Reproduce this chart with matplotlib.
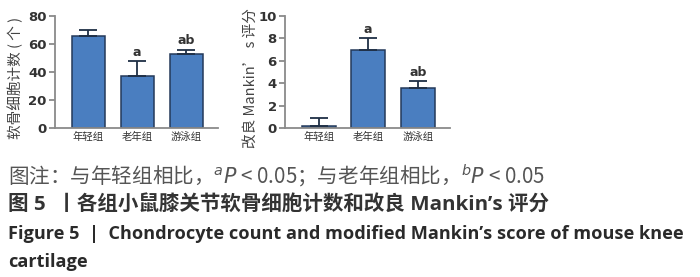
import matplotlib
matplotlib.use("Agg")
import matplotlib.pyplot as plt

groups = ["年轻组", "老年组", "游泳组"]
cell_count = [66, 37, 53]
cell_err = [4, 11, 3]
cell_marks = ["", "a", "ab"]
mankin = [0.2, 7.0, 3.6]
mankin_err = [0.7, 1.0, 0.6]
mankin_marks = ["", "a", "ab"]

CJK = ["Noto Sans CJK SC", "DejaVu Sans"]
MIX = ["Open Sans", "Noto Sans CJK SC", "DejaVu Sans"]
plt.rcParams["font.family"] = CJK

W, H = 700, 277
fig = plt.figure(figsize=(W / 100, H / 100), dpi=100)

bar_color = "#4a7ec0"
edge_color = "#24395a"
axis_color = "#8a8a8a"


def px_axes(x0, x1, ytop, ybot):
    return fig.add_axes([x0 / W, (H - ybot) / H, (x1 - x0) / W, (ybot - ytop) / H])


def draw(ax, vals, errs, marks, ymax, step, ylabel, mark_pad):
    x = range(len(vals))
    ax.bar(x, vals, width=0.68, color=bar_color, edgecolor=edge_color, linewidth=1.1, zorder=2)
    ax.errorbar(x, vals, yerr=[[0] * len(errs), errs], fmt="none", ecolor="#1f2f45",
                elinewidth=1.3, capsize=6.5, capthick=1.3, zorder=3)
    for i, (v, e, m) in enumerate(zip(vals, errs, marks)):
        if m:
            ax.text(i, v + e + mark_pad, m, ha="center", va="bottom", fontsize=9,
                    color="#333333", fontweight="bold", family="DejaVu Sans")
    ax.set_xlim(-0.68, 2.65)
    ax.set_ylim(0, ymax)
    ax.set_yticks(range(0, ymax + 1, step))
    ax.set_xticks(list(x))
    ax.set_xticklabels(groups, fontsize=7.5, color="#333333")
    for s in ["top", "right"]:
        ax.spines[s].set_visible(False)
    for s in ["left", "bottom"]:
        ax.spines[s].set_color(axis_color)
        ax.spines[s].set_linewidth(1.3)
    ax.tick_params(axis="y", colors=axis_color, labelcolor="#333333", labelsize=9.5, length=4, width=1.3, pad=2)
    ax.tick_params(axis="x", length=0, pad=3)
    for lab in ax.get_yticklabels():
        lab.set_fontweight("bold")
        lab.set_family("DejaVu Sans")
    ax.set_ylabel(ylabel, fontsize=10.5, color="#444444")


ax1 = px_axes(55, 218, 16, 128)
draw(ax1, cell_count, cell_err, cell_marks, 80, 20, "软骨细胞计数 ( 个 )", 1.5)
ax1.yaxis.set_label_coords((23 - 55) / 163, 0.45)

ax2 = px_axes(285, 450, 16, 128)
draw(ax2, mankin, mankin_err, mankin_marks, 10, 2, "改良 Mankin’ s 评分", 0.2)
ax2.yaxis.set_label_coords((258 - 285) / 165, 0.45)

captions = [
    ("图注：与年轻组相比，$^{a}\\mathit{P}$ < 0.05；与老年组相比，$^{b}\\mathit{P}$ < 0.05",
     176, 15, "#555555", "normal", CJK, 545),
    ("图 5  丨各组小鼠膝关节软骨细胞计数和改良 Mankin’s 评分",
     205, 14.5, "#333333", "bold", MIX, 548),
    ("Figure 5  |  Chondrocyte count and modified Mankin’s score of mouse knee",
     234, 13, "#2a2a2a", "bold", ["Open Sans", "DejaVu Sans"], 677),
    ("cartilage", 262, 13, "#2a2a2a", "bold", ["Open Sans", "DejaVu Sans"], None),
]

renderer = fig.canvas.get_renderer()
scale_en = None
for txt, y, fs, col, fw, fam, right in captions:
    t = fig.text(8 / W, 1 - y / H, txt, fontsize=fs, color=col, va="center", ha="left",
                 fontweight=fw, family=fam)
    if right is not None:
        bb = t.get_window_extent(renderer)
        s = (right - 8) / bb.width
        t.set_fontsize(fs * s)
        if fam[0] == "Open Sans" and len(fam) == 2:
            scale_en = fs * s
    elif scale_en is not None:
        t.set_fontsize(scale_en)

fig.savefig("out.png", dpi=100, facecolor="white")
